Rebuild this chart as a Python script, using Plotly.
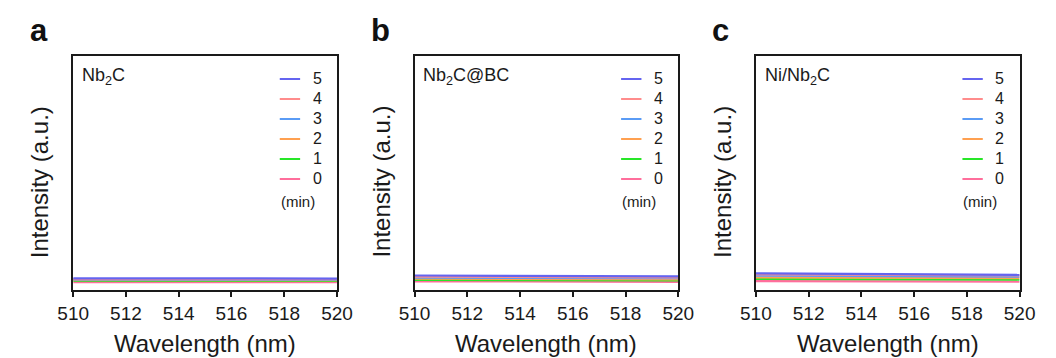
import plotly.graph_objects as go

# ---------------- data ----------------
wavelength = [510, 512, 514, 516, 518, 520]
times = ["0", "1", "2", "3", "4", "5"]
colors = ["#ff6e9b", "#28e628", "#ffa050", "#5a9bf5", "#ff8c8c", "#6464f0"]

panel_letters = ["a", "b", "c"]
panel_names = ["Nb<sub>2</sub>C", "Nb<sub>2</sub>C@BC", "Ni/Nb<sub>2</sub>C"]

nb2c = [
    [3.2, 3.2, 3.15, 3.15, 3.1, 3.1],
    [3.8, 3.8, 3.75, 3.75, 3.7, 3.7],
    [4.1, 4.1, 4.05, 4.05, 4.0, 4.0],
    [4.3, 4.3, 4.25, 4.25, 4.2, 4.2],
    [4.5, 4.5, 4.45, 4.45, 4.4, 4.4],
    [4.8, 4.8, 4.75, 4.75, 4.7, 4.7],
]
nb2c_bc = [
    [3.5, 3.45, 3.4, 3.4, 3.35, 3.3],
    [4.1, 4.05, 4.0, 4.0, 3.95, 3.9],
    [4.6, 4.55, 4.5, 4.45, 4.4, 4.35],
    [5.1, 5.05, 5.0, 4.95, 4.9, 4.85],
    [5.5, 5.45, 5.4, 5.3, 5.25, 5.2],
    [6.0, 5.9, 5.85, 5.8, 5.7, 5.6],
]
ni_nb2c = [
    [3.6, 3.55, 3.5, 3.45, 3.4, 3.35],
    [4.5, 4.45, 4.4, 4.35, 4.3, 4.25],
    [5.2, 5.15, 5.1, 5.0, 4.95, 4.9],
    [5.9, 5.8, 5.75, 5.65, 5.55, 5.5],
    [6.5, 6.4, 6.3, 6.2, 6.1, 6.0],
    [6.9, 6.8, 6.7, 6.55, 6.45, 6.3],
]
panels = [nb2c, nb2c_bc, ni_nb2c]

x_ticks = [510, 512, 514, 516, 518, 520]

# ---------------- layout helpers ----------------
W, H = 1056, 358
FONT = "Arial, Liberation Sans, sans-serif"
left_px = [59, 411, 763]
plot_w = 272
top_px, bot_px = 56, 289.5

fig = go.Figure()
layout = dict(
    width=W, height=H,
    margin=dict(l=0, r=0, t=0, b=0),
    paper_bgcolor="white", plot_bgcolor="white",
    showlegend=False,
    font=dict(family=FONT, color="#1a1a1a"),
)
annotations = []
shapes = []

ydom = [(H - bot_px) / H, (H - top_px) / H]
for p in range(3):
    sfx = "" if p == 0 else str(p + 1)
    xa, ya = "x" + sfx, "y" + sfx
    xdom = [left_px[p] / W, (left_px[p] + plot_w) / W]
    layout["xaxis" + sfx] = dict(
        domain=xdom, range=[510, 520], anchor=ya,
        showline=True, linecolor="#1a1a1a", linewidth=1.8, mirror=True,
        ticks="outside", ticklen=6, tickwidth=1.6, tickcolor="#1a1a1a",
        tickvals=x_ticks, ticktext=[str(t) for t in x_ticks],
        tickfont=dict(family=FONT, size=19, color="#1a1a1a"),
        showgrid=False, zeroline=False,
    )
    layout["yaxis" + sfx] = dict(
        domain=ydom, range=[0, 100], anchor=xa,
        showline=True, linecolor="#1a1a1a", linewidth=1.8, mirror=True,
        ticks="", showticklabels=False, showgrid=False, zeroline=False,
    )
    for i, t in enumerate(times):
        fig.add_trace(go.Scatter(
            x=wavelength, y=panels[p][i], mode="lines", name=t + " min",
            line=dict(color=colors[i], width=2.2), xaxis=xa, yaxis=ya,
        ))

    xd = xa + " domain"
    yd = ya + " domain"
    # manual legend: 5 on top down to 0
    for k, i in enumerate(reversed(range(len(times)))):
        ypix = 79 + 20 * k
        yv = (bot_px - ypix) / (bot_px - top_px)
        shapes.append(dict(type="line", xref=xd, yref=yd,
                           x0=(272 - 59) / plot_w, x1=(293 - 59) / plot_w,
                           y0=yv, y1=yv, line=dict(color=colors[i], width=2)))
        annotations.append(dict(xref=xd, yref=yd, x=(304 - 59) / plot_w, y=yv,
                                text=times[i], showarrow=False, xanchor="left",
                                yanchor="middle",
                                font=dict(family=FONT, size=16, color="#1a1a1a")))
    annotations.append(dict(xref=xd, yref=yd, x=(271 - 59) / plot_w,
                            y=(bot_px - 202) / (bot_px - top_px),
                            text="(min)", showarrow=False, xanchor="left",
                            yanchor="middle",
                            font=dict(family=FONT, size=15, color="#1a1a1a")))
    # sample name
    annotations.append(dict(xref=xd, yref=yd, x=(66 - 59) / plot_w,
                            y=(bot_px - 77) / (bot_px - top_px),
                            text=panel_names[p], showarrow=False, xanchor="left",
                            yanchor="middle",
                            font=dict(family=FONT, size=18, color="#1a1a1a")))
    # panel letter
    annotations.append(dict(xref="paper", yref="paper",
                            x=(left_px[p] - 47) / W, y=(H - 31) / H,
                            text="<b>" + panel_letters[p] + "</b>", showarrow=False,
                            xanchor="left", yanchor="middle",
                            font=dict(family=FONT, size=31, color="#111111")))
    # axis titles
    annotations.append(dict(xref="paper", yref="paper",
                            x=(left_px[p] + plot_w / 2) / W, y=(H - 343) / H,
                            text="Wavelength (nm)", showarrow=False,
                            xanchor="center", yanchor="middle",
                            font=dict(family=FONT, size=24, color="#1a1a1a")))
    annotations.append(dict(xref="paper", yref="paper",
                            x=(left_px[p] - 35) / W, y=(H - 182) / H,
                            text="Intensity (a.u.)", showarrow=False, textangle=-90,
                            xanchor="center", yanchor="middle",
                            font=dict(family=FONT, size=24, color="#1a1a1a")))

layout["annotations"] = annotations
layout["shapes"] = shapes
fig.update_layout(**layout)
fig.write_html("out.html")
